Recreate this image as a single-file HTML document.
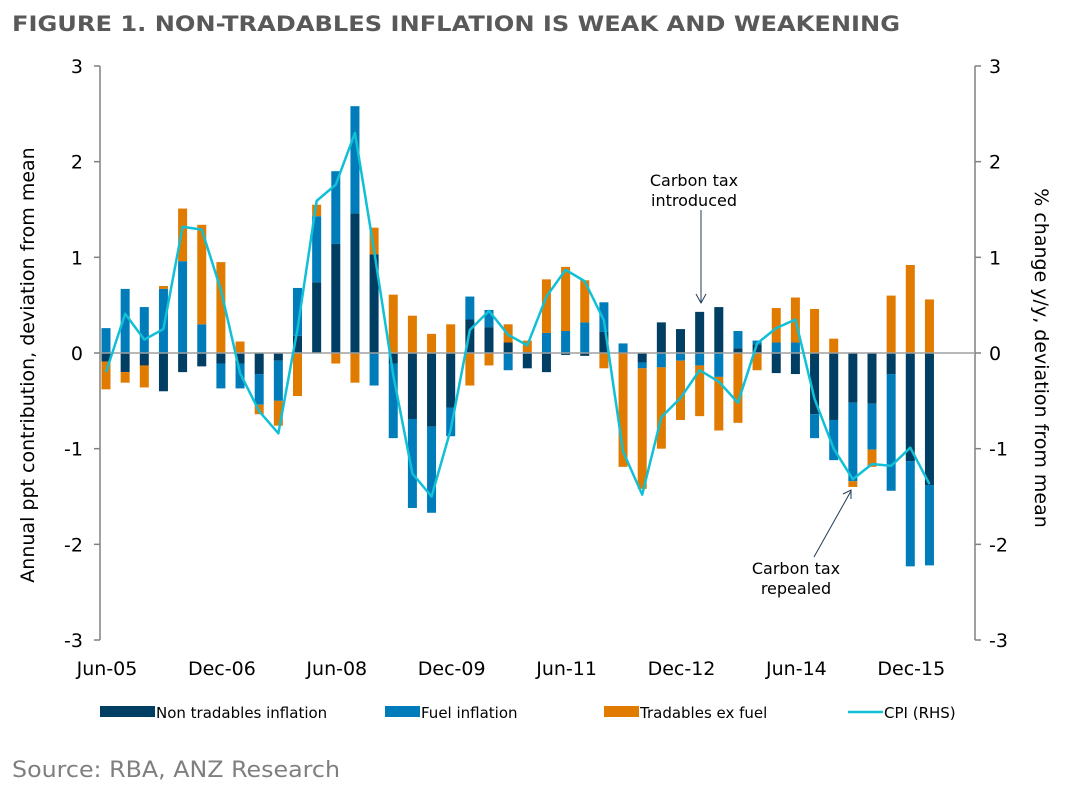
<!DOCTYPE html>
<html><head><meta charset="utf-8"><style>
body{margin:0;background:#fff;font-family:"DejaVu Sans","Liberation Sans",sans-serif;}
svg{display:block;font-family:"DejaVu Sans","Liberation Sans",sans-serif;}
</style></head><body>
<svg id="chart" width="1065" height="787">
<text x="12" y="31" font-size="21" font-weight="bold" fill="#595959" textLength="888" lengthAdjust="spacingAndGlyphs">FIGURE 1. NON-TRADABLES INFLATION IS WEAK AND WEAKENING</text>
<text x="12" y="777" font-size="22" fill="#7f7f7f" textLength="328" lengthAdjust="spacingAndGlyphs">Source: RBA, ANZ Research</text>
<g id="plot"></g>
</svg>
<script>
const labels=["Jun-05","Dec-06","Jun-08","Dec-09","Jun-11","Dec-12","Jun-14","Dec-15"];
const nonTradables=[-0.09,-0.2,-0.13,-0.4,-0.2,-0.14,-0.11,-0.11,-0.22,-0.08,0.18,0.74,1.14,1.46,1.03,-0.11,-0.69,-0.77,-0.57,0.35,0.27,0.11,-0.16,-0.2,-0.02,-0.03,0.22,0.01,-0.1,0.32,0.25,0.43,0.48,0.05,0.09,-0.21,-0.22,-0.64,-0.7,-0.52,-0.53,-0.22,-1.13,-1.38];
const fuel=[0.26,0.67,0.48,0.67,0.96,0.3,-0.26,-0.26,-0.32,-0.42,0.5,0.69,0.76,1.12,-0.34,-0.78,-0.93,-0.9,-0.3,0.24,0.18,-0.18,0.01,0.21,0.23,0.32,0.31,0.09,-0.06,-0.15,-0.08,-0.13,-0.25,0.18,0.04,0.11,0.11,-0.25,-0.42,-0.82,-0.48,-1.22,-1.1,-0.84];
const tradablesExFuel=[-0.29,-0.11,-0.23,0.03,0.55,1.04,0.95,0.12,-0.1,-0.26,-0.45,0.12,-0.11,-0.31,0.28,0.61,0.39,0.2,0.3,-0.34,-0.13,0.19,0.12,0.56,0.67,0.44,-0.16,-1.19,-1.26,-0.85,-0.62,-0.53,-0.56,-0.73,-0.18,0.36,0.47,0.46,0.15,-0.06,-0.18,0.6,0.92,0.56];
const cpi=[-0.2,0.41,0.14,0.25,1.32,1.29,0.66,-0.21,-0.61,-0.84,0.25,1.59,1.76,2.3,1.07,-0.23,-1.26,-1.5,-0.8,0.24,0.44,0.19,0.08,0.59,0.87,0.75,0.34,-1.03,-1.48,-0.67,-0.47,-0.18,-0.3,-0.52,0.1,0.26,0.35,-0.48,-1.0,-1.32,-1.16,-1.18,-0.99,-1.37];
const yTicks=[3,2,1,0,-1,-2,-3];
const NS="http://www.w3.org/2000/svg";
const g=document.getElementById('plot');
const X0=100,X1=975,Y0=353,U=95.67;
const xs=i=>106+i*19.15;
const ys=v=>Y0-v*U;
function mk(t,a,p){const e=document.createElementNS(NS,t);for(const k in a)e.setAttribute(k,a[k]);(p||g).appendChild(e);return e;}
let e;
e=mk('line',{x1:X0,y1:ys(3),x2:X0,y2:ys(-3),stroke:'#808080','stroke-width':1.5});


e=mk('line',{x1:X1,y1:ys(3),x2:X1,y2:ys(-3),stroke:'#808080','stroke-width':1.5});


yTicks.forEach(v=>{
  mk('line',{x1:X0-6,y1:ys(v),x2:X0,y2:ys(v),stroke:'#808080','stroke-width':1.5});
  mk('line',{x1:X1,y1:ys(v),x2:X1+6,y2:ys(v),stroke:'#808080','stroke-width':1.5});
  e=mk('text',{x:X0-17,y:ys(v)+7,'font-size':19,'text-anchor':'end',fill:'#000'});e.textContent=v;
  
  
  e=mk('text',{x:X1+14,y:ys(v)+7,'font-size':19,'text-anchor':'start',fill:'#000'});e.textContent=v;
  
  
});
labels.forEach((l,k)=>{
  e=mk('text',{x:xs(k*6)+1,y:675,'font-size':19,'text-anchor':'middle'});e.textContent=l;
  
  
});
e=mk('text',{x:0,y:0,'font-size':19,'text-anchor':'middle',transform:`translate(34,${Y0+12}) rotate(-90)`});e.textContent='Annual ppt contribution, deviation from mean';


e=mk('text',{x:0,y:0,'font-size':19,'text-anchor':'middle',transform:`translate(1035,${Y0+5}) rotate(90)`});e.textContent='% change y/y, deviation from mean';


const series=[[nonTradables,'#003F63','bar-non-tradables'],[fuel,'#007CBA','bar-fuel'],[tradablesExFuel,'#E07B00','bar-tradables']];
nonTradables.forEach((_,i)=>{
  let pos=0,neg=0;
  series.forEach(([arr,c,n])=>{
    const v=arr[i];let a,b;
    if(v>=0){a=pos;b=pos+v;pos=b;}else{a=neg;b=neg+v;neg=b;}
    const r=mk('rect',{x:xs(i)-4.5,y:Math.min(ys(a),ys(b)),width:9,height:Math.abs(ys(a)-ys(b)),fill:c});
    
    
  });
});
e=mk('line',{x1:X0,y1:Y0,x2:X1,y2:Y0,stroke:'#a0a0a0','stroke-width':1.5});


e=mk('polyline',{points:cpi.map((v,i)=>xs(i)+','+ys(v)).join(' '),fill:'none',stroke:'#11C0D6','stroke-width':2.5,'stroke-linejoin':'round'});


function ann(lines,x,y,name){lines.forEach((t,k)=>{const a=mk('text',{x:x,y:y+k*20,'font-size':16,'text-anchor':'middle'});a.textContent=t;});}
ann(['Carbon tax','introduced'],694,186,'annotation-carbon-tax-introduced');
ann(['Carbon tax','repealed'],796,574,'annotation-carbon-tax-repealed');
mk('line',{x1:701,y1:210,x2:701,y2:302,stroke:'#1f3c5a','stroke-width':1});
mk('polyline',{points:'696,294 701,303 706,294',fill:'none',stroke:'#1f3c5a','stroke-width':1});
mk('line',{x1:814,y1:557,x2:851,y2:491,stroke:'#1f3c5a','stroke-width':1});
mk('polyline',{points:'843,494 851,490 851,499',fill:'none',stroke:'#1f3c5a','stroke-width':1});
const leg=[['rect','#003F63',100,'Non tradables inflation','legend-non-tradables'],['rect','#007CBA',385,'Fuel inflation','legend-fuel'],['rect','#E07B00',604,'Tradables ex fuel','legend-tradables'],['line','#11C0D6',848,'CPI (RHS)','legend-cpi']];
leg.forEach(([t,c,x,l,n])=>{
  const gg=mk('g',{});
  
  
  if(t==='rect')mk('rect',{x:x,y:706,width:x===100?55:35,height:11,fill:c},gg);
  else mk('line',{x1:x,y1:712,x2:x+35,y2:712,stroke:c,'stroke-width':2.5},gg);
  const tx=mk('text',{x:x+(x===100?55:35)+1,y:718,'font-size':15},gg);tx.textContent=l;
});
</script>
</body></html>
